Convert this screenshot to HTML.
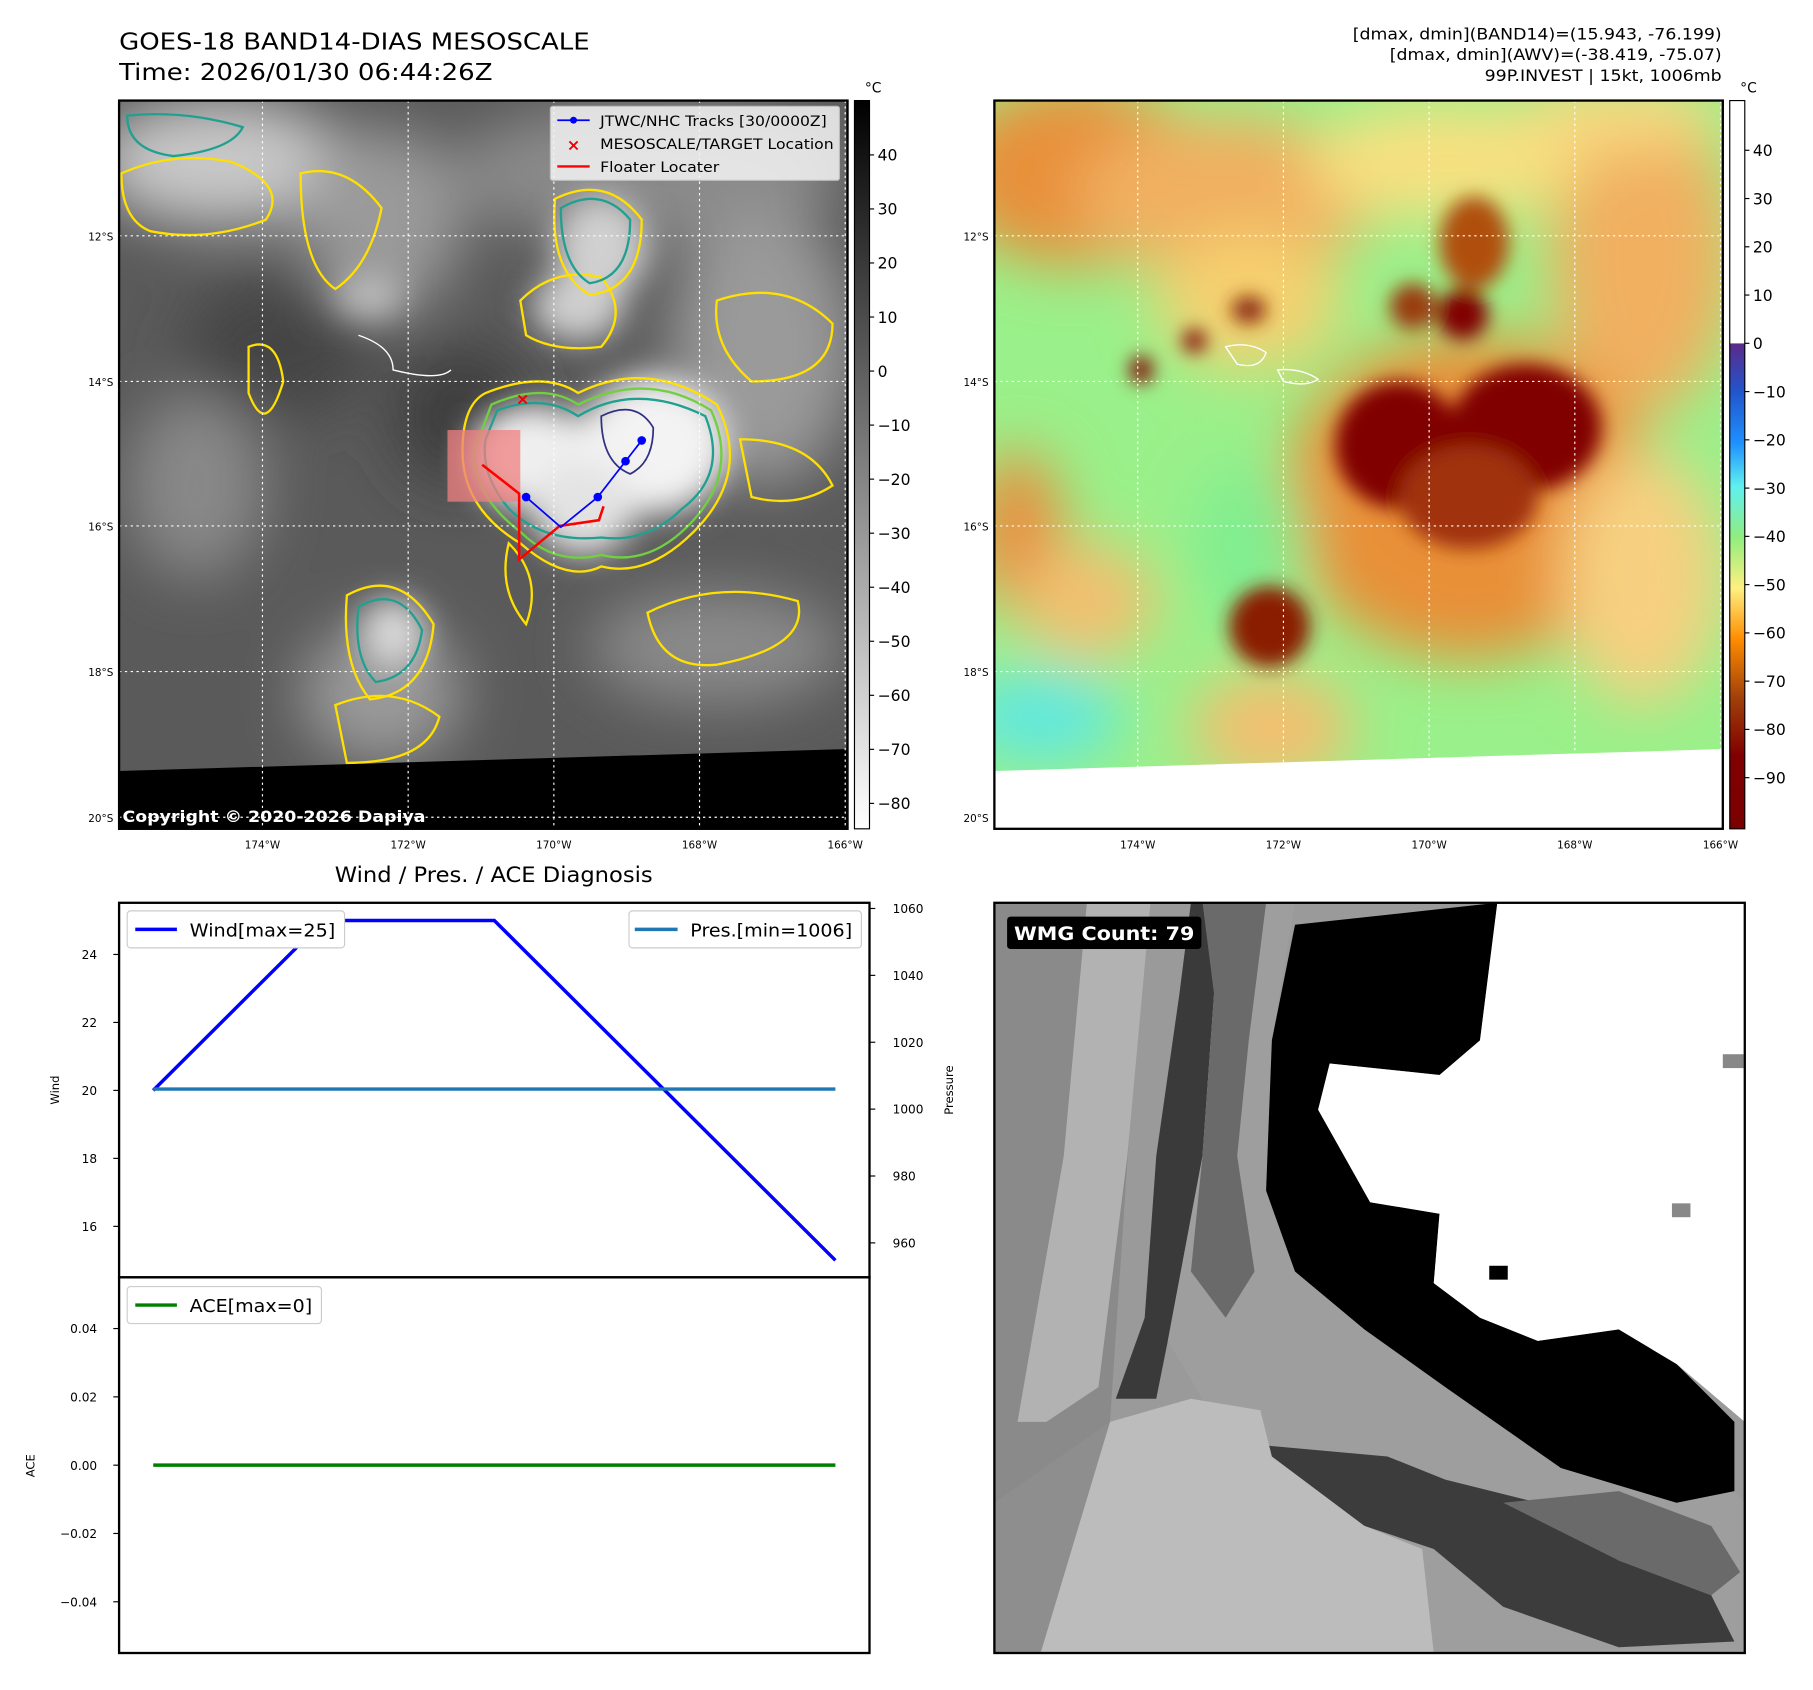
<!DOCTYPE html>
<html><head><meta charset="utf-8"><style>
html,body{margin:0;padding:0;background:#fff;}
svg{display:block;font-family:"DejaVu Sans","Liberation Sans",sans-serif;}
</style></head><body>
<svg id="fig" width="1813" height="1690" viewBox="0 0 1568 1462" preserveAspectRatio="none" xmlns="http://www.w3.org/2000/svg">
<defs>
<filter id="b8" x="-50%" y="-50%" width="200%" height="200%"><feGaussianBlur stdDeviation="8"/></filter>
<filter id="b14" x="-50%" y="-50%" width="200%" height="200%"><feGaussianBlur stdDeviation="14"/></filter>
<filter id="b25" x="-50%" y="-50%" width="200%" height="200%"><feGaussianBlur stdDeviation="25"/></filter>
<clipPath id="c1"><rect x="103" y="87" width="630" height="630"/></clipPath>
<clipPath id="c2"><rect x="860" y="87" width="630" height="630"/></clipPath>
<clipPath id="c4"><rect x="860" y="781" width="649" height="649"/></clipPath>
<linearGradient id="cb1" x1="0" y1="0" x2="0" y2="1"><stop offset="0" stop-color="#000"/><stop offset="1" stop-color="#fff"/></linearGradient>
<linearGradient id="cb2" x1="0" y1="0" x2="0" y2="1">
<stop offset="0" stop-color="#fff"/><stop offset="0.333" stop-color="#fff"/><stop offset="0.334" stop-color="#5a2a8a"/>
<stop offset="0.40" stop-color="#2255cc"/><stop offset="0.47" stop-color="#1e90ff"/><stop offset="0.53" stop-color="#60f0f0"/>
<stop offset="0.60" stop-color="#90ee80"/><stop offset="0.67" stop-color="#fff080"/><stop offset="0.74" stop-color="#ff8c00"/>
<stop offset="0.82" stop-color="#a0400a"/><stop offset="0.90" stop-color="#800000"/><stop offset="1" stop-color="#7a0000"/></linearGradient>
</defs>

<text x="103" y="43" font-size="20" textLength="407" lengthAdjust="spacingAndGlyphs">GOES-18 BAND14-DIAS MESOSCALE</text>
<text x="103" y="69" font-size="20" textLength="323" lengthAdjust="spacingAndGlyphs">Time: 2026/01/30 06:44:26Z</text>
<g font-size="14" text-anchor="end">
<text x="1489" y="34" textLength="319" lengthAdjust="spacingAndGlyphs">[dmax, dmin](BAND14)=(15.943, -76.199)</text>
<text x="1489" y="52" textLength="287" lengthAdjust="spacingAndGlyphs">[dmax, dmin](AWV)=(-38.419, -75.07)</text>
<text x="1489" y="70" textLength="205" lengthAdjust="spacingAndGlyphs">99P.INVEST | 15kt, 1006mb</text>
</g>

<g clip-path="url(#c1)">
<rect x="103" y="87" width="630" height="630" fill="#5a5a5a"/>
<g filter="url(#b25)">
<ellipse cx="190" cy="140" rx="110" ry="55" fill="#c8c8c8"/>
<ellipse cx="330" cy="190" rx="70" ry="80" fill="#9a9a9a"/>
<ellipse cx="560" cy="150" rx="170" ry="60" fill="#8a8a8a"/>
<ellipse cx="660" cy="300" rx="80" ry="120" fill="#9a9a9a"/>
<ellipse cx="170" cy="420" rx="60" ry="80" fill="#888"/>
<ellipse cx="400" cy="360" rx="60" ry="60" fill="#3e3e3e"/>
<ellipse cx="240" cy="300" rx="80" ry="60" fill="#444"/>
<ellipse cx="620" cy="560" rx="110" ry="50" fill="#8a8a8a"/>
<ellipse cx="330" cy="600" rx="70" ry="60" fill="#9a9a9a"/>
</g>
<g filter="url(#b14)">
<ellipse cx="520" cy="215" rx="40" ry="45" fill="#d0d0d0"/>
<ellipse cx="500" cy="265" rx="40" ry="30" fill="#cfcfcf"/>
<ellipse cx="460" cy="395" rx="55" ry="45" fill="#efefef"/>
<ellipse cx="565" cy="385" rx="65" ry="60" fill="#f3f3f3"/>
<ellipse cx="505" cy="440" rx="45" ry="40" fill="#e3e3e3"/>
<ellipse cx="340" cy="548" rx="28" ry="30" fill="#d8d8d8"/>
<ellipse cx="320" cy="255" rx="30" ry="20" fill="#bbb"/>
</g>
<g fill="none" stroke-width="2">
<path d="M420,340 Q470,320 500,340 Q560,310 620,350 Q650,410 600,460 Q560,500 520,490 Q490,505 450,470 Q400,440 400,390 Q400,350 420,340Z" stroke="#ffe000"/>
<path d="M425,350 Q470,330 500,350 Q560,320 615,355 Q640,410 595,455 Q560,490 520,480 Q480,490 450,460 Q410,430 410,390Z" stroke="#70d040"/>
<path d="M430,355 Q470,340 500,360 Q550,330 610,360 Q630,410 590,440 Q560,470 520,465 Q470,470 440,440 Q415,410 420,380Z" stroke="#20a090"/>
<path d="M520,360 Q550,345 565,370 Q565,400 545,410 Q520,400 520,360Z" stroke="#303080" stroke-width="1.5"/>
<path d="M450,260 Q480,230 520,240 Q545,270 520,300 Q480,305 455,290Z" stroke="#ffe000"/>
<path d="M485,180 Q520,160 545,190 Q545,240 510,245 Q485,230 485,180Z" stroke="#20a090"/>
<path d="M480,172 Q525,150 555,190 Q555,250 510,255 Q475,235 480,172Z" stroke="#ffe000"/>
<path d="M310,525 Q345,505 365,545 Q360,585 325,590 Q305,570 310,525Z" stroke="#20a090"/>
<path d="M300,515 Q345,490 375,540 Q370,600 320,605 Q295,575 300,515Z" stroke="#ffe000"/>
<path d="M105,150 Q150,130 200,140 Q250,160 230,190 Q180,210 130,200 Q105,190 105,150Z" stroke="#ffe000"/>
<path d="M110,100 Q160,95 210,110 Q200,130 150,135 Q110,130 110,100Z" stroke="#20a090"/>
<path d="M260,150 Q300,140 330,180 Q320,230 290,250 Q260,230 260,150Z" stroke="#ffe000"/>
<path d="M215,300 Q240,290 245,330 Q230,380 215,340Z" stroke="#ffe000"/>
<path d="M560,530 Q620,500 690,520 Q700,560 620,575 Q570,580 560,530Z" stroke="#ffe000"/>
<path d="M290,610 Q340,590 380,620 Q370,660 300,660Z" stroke="#ffe000"/>
<path d="M440,470 Q470,500 455,540 Q430,510 440,470Z" stroke="#ffe000"/>
<path d="M620,260 Q680,240 720,280 Q720,330 650,330 Q615,300 620,260Z" stroke="#ffe000"/>
<path d="M640,380 Q700,380 720,420 Q690,440 650,430Z" stroke="#ffe000"/>
<path d="M310,290 Q340,300 340,320 Q380,330 390,320" stroke="#fff" stroke-width="1.2"/>
</g>
<polygon points="103,667 733,648 733,717 103,717" fill="#000"/>
<rect x="387" y="372" width="63" height="62" fill="#f08080" opacity="0.75"/>
</g>
<g stroke="#fff" stroke-width="1" stroke-dasharray="2,3" fill="none">
<line x1="227" y1="87" x2="227" y2="717"/><line x1="353" y1="87" x2="353" y2="717"/><line x1="479" y1="87" x2="479" y2="717"/><line x1="605" y1="87" x2="605" y2="717"/><line x1="731" y1="87" x2="731" y2="717"/>
<line x1="103" y1="204" x2="733" y2="204"/><line x1="103" y1="330" x2="733" y2="330"/><line x1="103" y1="455" x2="733" y2="455"/><line x1="103" y1="581" x2="733" y2="581"/><line x1="103" y1="707" x2="733" y2="707"/>
</g>
<g fill="none" stroke="#f00" stroke-width="2.2">
<polyline points="417,402 449,427 449,484 484,455 518,450 522,438"/>
</g>
<g stroke="#00f" stroke-width="1.5" fill="#00f">
<polyline points="455,430 485,456 517,430 541,399 555,381" fill="none"/>
<circle cx="455" cy="430" r="3"/><circle cx="517" cy="430" r="3"/><circle cx="541" cy="399" r="3"/><circle cx="555" cy="381" r="3"/>
</g>
<text x="452" y="350" font-size="14" fill="#e00" font-weight="bold" text-anchor="middle">×</text>
<text x="106" y="711" font-size="14" font-weight="bold" fill="#fff" textLength="262" lengthAdjust="spacingAndGlyphs">Copyright © 2020-2026 Dapiya</text>
<g>
<rect x="476" y="92" width="250" height="64" fill="#f4f4f4" opacity="0.85" stroke="#ccc" rx="2"/>
<line x1="482" y1="104" x2="510" y2="104" stroke="#00f" stroke-width="1.5"/><circle cx="496" cy="104" r="3" fill="#00f"/>
<text x="519" y="109" font-size="12.5" textLength="196" lengthAdjust="spacingAndGlyphs">JTWC/NHC Tracks [30/0000Z]</text>
<text x="496" y="130" font-size="14" fill="#e00" font-weight="bold" text-anchor="middle">×</text>
<text x="519" y="129" font-size="12.5" textLength="202" lengthAdjust="spacingAndGlyphs">MESOSCALE/TARGET Location</text>
<line x1="482" y1="144" x2="510" y2="144" stroke="#f00" stroke-width="2"/>
<text x="519" y="149" font-size="12.5" textLength="103" lengthAdjust="spacingAndGlyphs">Floater Locater</text>
</g>
<rect x="103" y="87" width="630" height="630" fill="none" stroke="#000" stroke-width="2"/>

<g clip-path="url(#c2)">
<rect x="860" y="87" width="630" height="630" fill="#9af08a"/>
<g filter="url(#b25)">
<ellipse cx="930" cy="150" rx="110" ry="80" fill="#e8903a"/>
<ellipse cx="1060" cy="170" rx="130" ry="70" fill="#f0b060"/>
<ellipse cx="1420" cy="220" rx="80" ry="140" fill="#f0b060"/>
<ellipse cx="1250" cy="140" rx="120" ry="50" fill="#f8e080"/>
<ellipse cx="1080" cy="260" rx="80" ry="60" fill="#f5d070"/>
<ellipse cx="1400" cy="100" rx="90" ry="30" fill="#f8d880"/>
<ellipse cx="880" cy="460" rx="40" ry="70" fill="#e89040"/>
<ellipse cx="1270" cy="430" rx="160" ry="140" fill="#e89038"/>
<ellipse cx="1420" cy="500" rx="70" ry="110" fill="#f6d080"/>
<ellipse cx="940" cy="520" rx="60" ry="50" fill="#f2c070"/>
<ellipse cx="1100" cy="630" rx="70" ry="50" fill="#f2c070"/>
<ellipse cx="900" cy="620" rx="70" ry="40" fill="#60e8e0"/>
<ellipse cx="1080" cy="470" rx="50" ry="70" fill="#80ee90"/>
</g>
<g filter="url(#b8)">
<ellipse cx="1275" cy="210" rx="30" ry="40" fill="#b05010"/>
<ellipse cx="1210" cy="385" rx="55" ry="55" fill="#800000"/>
<ellipse cx="1320" cy="370" rx="65" ry="55" fill="#800000"/>
<ellipse cx="1270" cy="430" rx="60" ry="45" fill="#a03008"/>
<ellipse cx="1265" cy="272" rx="22" ry="22" fill="#800000"/>
<ellipse cx="1222" cy="265" rx="20" ry="20" fill="#9a3a10"/>
<ellipse cx="1098" cy="542" rx="35" ry="35" fill="#8a1a05"/>
<ellipse cx="1080" cy="268" rx="15" ry="12" fill="#8a2a08"/>
<ellipse cx="1033" cy="295" rx="10" ry="10" fill="#800000"/>
<ellipse cx="987" cy="320" rx="10" ry="12" fill="#800000"/>
</g>
<path d="M1060,300 Q1080,295 1095,305 Q1090,320 1070,315Z M1105,320 Q1125,318 1140,328 Q1130,335 1110,330Z" fill="none" stroke="#fff" stroke-width="1.2"/>
<polygon points="860,667 1490,648 1490,717 860,717" fill="#fff"/>
</g>
<g stroke="#fff" stroke-width="1" stroke-dasharray="2,3" fill="none">
<line x1="984" y1="87" x2="984" y2="717"/><line x1="1110" y1="87" x2="1110" y2="717"/><line x1="1236" y1="87" x2="1236" y2="717"/><line x1="1362" y1="87" x2="1362" y2="717"/><line x1="1488" y1="87" x2="1488" y2="717"/>
<line x1="860" y1="204" x2="1490" y2="204"/><line x1="860" y1="330" x2="1490" y2="330"/><line x1="860" y1="455" x2="1490" y2="455"/><line x1="860" y1="581" x2="1490" y2="581"/><line x1="860" y1="707" x2="1490" y2="707"/>
</g>
<rect x="860" y="87" width="630" height="630" fill="none" stroke="#000" stroke-width="2"/>

<g font-size="9">
<g text-anchor="end">
<text x="98" y="208">12°S</text><text x="98" y="334">14°S</text><text x="98" y="459">16°S</text><text x="98" y="585">18°S</text><text x="98" y="711">20°S</text>
<text x="855" y="208">12°S</text><text x="855" y="334">14°S</text><text x="855" y="459">16°S</text><text x="855" y="585">18°S</text><text x="855" y="711">20°S</text>
</g>
<g text-anchor="middle">
<text x="227" y="734">174°W</text><text x="353" y="734">172°W</text><text x="479" y="734">170°W</text><text x="605" y="734">168°W</text><text x="731" y="734">166°W</text>
<text x="984" y="734">174°W</text><text x="1110" y="734">172°W</text><text x="1236" y="734">170°W</text><text x="1362" y="734">168°W</text><text x="1488" y="734">166°W</text>
</g>
</g>

<g>
<rect x="739" y="87" width="13" height="630" fill="url(#cb1)" stroke="#000" stroke-width="1"/>
<text x="748" y="80" font-size="12">°C</text>
<g id="cb1ticks" font-size="13.5"></g>
</g>
<g>
<rect x="1496" y="87" width="13" height="630" fill="url(#cb2)" stroke="#000" stroke-width="1"/>
<text x="1505" y="80" font-size="12">°C</text>
<g id="cb2ticks" font-size="13.5"></g>
</g>

<text x="427" y="763" font-size="18.5" text-anchor="middle" textLength="275" lengthAdjust="spacingAndGlyphs">Wind / Pres. / ACE Diagnosis</text>
<g id="windPanel"></g>
<g id="acePanel"></g>

<g clip-path="url(#c4)">
<rect x="860" y="781" width="649" height="649" fill="#9a9a9a"/>
<polygon points="860,781 990,781 960,1230 900,1430 860,1430" fill="#8a8a8a"/>
<polygon points="940,781 995,781 975,1000 950,1200 905,1230 880,1230 920,1000" fill="#b2b2b2"/>
<polygon points="990,781 1030,781 1020,860 1000,1000 990,1140 965,1210 1000,1210 1010,1160 1040,1000 1050,860 1060,781" fill="#3a3a3a"/>
<polygon points="1060,781 1120,781 1100,900 1095,1030 1120,1100 1180,1150 1250,1200 1350,1270 1450,1300 1500,1290 1509,1300 1509,1430 1100,1430 1100,1300 1040,1210 1010,1160 1040,1000 1050,860" fill="#9e9e9e"/>
<polygon points="1040,781 1095,781 1080,900 1070,1000 1085,1100 1060,1140 1030,1100 1040,1000 1050,860" fill="#6a6a6a"/>
<polygon points="1120,800 1295,781 1280,900 1245,930 1150,920 1140,960 1185,1040 1245,1050 1240,1110 1280,1140 1330,1160 1400,1150 1450,1180 1500,1230 1500,1290 1450,1300 1350,1270 1250,1200 1180,1150 1120,1100 1095,1030 1100,900" fill="#000"/>
<polygon points="1295,781 1509,781 1509,1230 1450,1180 1400,1150 1330,1160 1280,1140 1240,1110 1245,1050 1185,1040 1140,960 1150,920 1245,930 1280,900" fill="#fff"/>
<polygon points="1090,1250 1200,1260 1250,1280 1330,1300 1400,1350 1480,1380 1500,1420 1400,1425 1300,1390 1240,1340 1180,1320 1120,1290" fill="#3c3c3c"/>
<polygon points="1300,1300 1400,1290 1480,1320 1505,1360 1480,1380 1400,1350" fill="#6a6a6a"/>
<polygon points="960,1230 1030,1210 1090,1220 1100,1260 1180,1320 1230,1340 1240,1430 880,1430 900,1330" fill="#bcbcbc"/>
<polygon points="860,1300 960,1230 900,1430 860,1430" fill="#8e8e8e"/>
<rect x="1490" y="912" width="18" height="12" fill="#888"/>
<rect x="1446" y="1041" width="16" height="12" fill="#888"/>
<rect x="1288" y="1095" width="16" height="12" fill="#000"/>
</g>
<rect x="860" y="781" width="649" height="649" fill="none" stroke="#000" stroke-width="2"/>
<g>
<rect x="871" y="793" width="168" height="28" rx="3" fill="#000"/>
<text x="877" y="813" font-size="16" font-weight="bold" fill="#fff" textLength="156" lengthAdjust="spacingAndGlyphs">WMG Count: 79</text>
</g>
</svg>

<script>
const timeIdx = [0, 1, 2, 3, 4];
const windVals = [20, 25, 25, 20, 15];
const presVals = [1006, 1006, 1006, 1006, 1006];
const aceVals = [0, 0, 0, 0, 0];
const windTicks = [16, 18, 20, 22, 24];
const presTicks = [960, 980, 1000, 1020, 1040, 1060];
const aceTicks = [-0.04, -0.02, 0.00, 0.02, 0.04];
const cb1Ticks = [40, 30, 20, 10, 0, -10, -20, -30, -40, -50, -60, -70, -80];
const cb2Ticks = [40, 30, 20, 10, 0, -10, -20, -30, -40, -50, -60, -70, -80, -90];

const NS = 'http://www.w3.org/2000/svg';
function mk(tag, attrs, parent) {
  const e = document.createElementNS(NS, tag);
  for (const k in attrs) e.setAttribute(k, attrs[k]);
  parent.appendChild(e);
  return e;
}
const X0 = 103, X1 = 752;
const xMin = -0.2, xMax = 4.2;
const xS = v => X0 + (v - xMin) / (xMax - xMin) * (X1 - X0);
const W0 = 781, W1 = 1105;
const wMin = 14.5, wMax = 25.52;
const wS = v => W1 - (v - wMin) / (wMax - wMin) * (W1 - W0);
const pMin = 949.7, pMax = 1061.7;
const pS = v => W1 - (v - pMin) / (pMax - pMin) * (W1 - W0);
const A0 = 1105, A1 = 1430;
const aMin = -0.055, aMax = 0.055;
const aS = v => A1 - (v - aMin) / (aMax - aMin) * (A1 - A0);
const cb1S = v => 134 + (40 - v) * 4.675;
const cb2S = v => 297 - v * 4.175;

const g1 = document.getElementById('cb1ticks');
cb1Ticks.forEach(t => {
  const l = mk('line', {x1: 752, x2: 756, y1: cb1S(t), y2: cb1S(t), stroke: '#000'}, g1);
  
  
  const tx = mk('text', {x: 759, y: cb1S(t) + 5}, g1);
  
  
  tx.textContent = t < 0 ? '\u2212' + Math.abs(t) : String(t);
});
const g2 = document.getElementById('cb2ticks');
cb2Ticks.forEach(t => {
  const l = mk('line', {x1: 1509, x2: 1513, y1: cb2S(t), y2: cb2S(t), stroke: '#000'}, g2);
  
  
  const tx = mk('text', {x: 1516, y: cb2S(t) + 5}, g2);
  
  
  tx.textContent = t < 0 ? '\u2212' + Math.abs(t) : String(t);
});

const wp = document.getElementById('windPanel');
const wl = mk('polyline', {points: timeIdx.map((t, i) => xS(t) + ',' + wS(windVals[i])).join(' '), fill: 'none', stroke: '#0000ff', 'stroke-width': 3}, wp);


const pl = mk('polyline', {points: timeIdx.map((t, i) => xS(t) + ',' + pS(presVals[i])).join(' '), fill: 'none', stroke: '#1f77b4', 'stroke-width': 3}, wp);


windTicks.forEach(t => {
  const l = mk('line', {x1: 98, x2: 103, y1: wS(t), y2: wS(t), stroke: '#000'}, wp);
  
  
  const tx = mk('text', {x: 84, y: wS(t) + 4, 'font-size': 10.5, 'text-anchor': 'end'}, wp);
  
  
  tx.textContent = t;
});
presTicks.forEach(t => {
  const l = mk('line', {x1: 752, x2: 757, y1: pS(t), y2: pS(t), stroke: '#000'}, wp);
  
  
  const tx = mk('text', {x: 772, y: pS(t) + 4, 'font-size': 10.5}, wp);
  
  
  tx.textContent = t;
});
const wyt = mk('text', {x: 0, y: 0, 'font-size': 10, 'text-anchor': 'middle', transform: 'translate(51,943) rotate(-90)'}, wp);


wyt.textContent = 'Wind';
const pyt = mk('text', {x: 0, y: 0, 'font-size': 10, 'text-anchor': 'middle', transform: 'translate(824,943) rotate(-90)'}, wp);


pyt.textContent = 'Pressure';
const wf = mk('rect', {x: 103, y: 781, width: 649, height: 324, fill: 'none', stroke: '#000', 'stroke-width': 2}, wp);


const lw = mk('g', {}, wp);


mk('rect', {x: 110, y: 788, width: 188, height: 32, fill: '#fff', stroke: '#ccc', rx: 3}, lw);
mk('line', {x1: 117, x2: 153, y1: 804, y2: 804, stroke: '#0000ff', 'stroke-width': 3}, lw);
mk('text', {x: 164, y: 810, 'font-size': 15.5, textLength: 126, lengthAdjust: 'spacingAndGlyphs'}, lw).textContent = 'Wind[max=25]';
const lp = mk('g', {}, wp);


mk('rect', {x: 544, y: 788, width: 201, height: 32, fill: '#fff', stroke: '#ccc', rx: 3}, lp);
mk('line', {x1: 549, x2: 586, y1: 804, y2: 804, stroke: '#1f77b4', 'stroke-width': 3}, lp);
mk('text', {x: 597, y: 810, 'font-size': 15.5, textLength: 140, lengthAdjust: 'spacingAndGlyphs'}, lp).textContent = 'Pres.[min=1006]';

const ap = document.getElementById('acePanel');
const al = mk('polyline', {points: timeIdx.map((t, i) => xS(t) + ',' + aS(aceVals[i])).join(' '), fill: 'none', stroke: '#008000', 'stroke-width': 3}, ap);


aceTicks.forEach(t => {
  const l = mk('line', {x1: 98, x2: 103, y1: aS(t), y2: aS(t), stroke: '#000'}, ap);
  
  
  const tx = mk('text', {x: 84, y: aS(t) + 4, 'font-size': 10.5, 'text-anchor': 'end'}, ap);
  
  
  tx.textContent = (t < 0 ? '\u2212' : '') + Math.abs(t).toFixed(2);
});
const ayt = mk('text', {x: 0, y: 0, 'font-size': 10, 'text-anchor': 'middle', transform: 'translate(30,1268) rotate(-90)'}, ap);


ayt.textContent = 'ACE';
const af = mk('rect', {x: 103, y: 1105, width: 649, height: 325, fill: 'none', stroke: '#000', 'stroke-width': 2}, ap);


const la = mk('g', {}, ap);


mk('rect', {x: 110, y: 1113, width: 168, height: 32, fill: '#fff', stroke: '#ccc', rx: 3}, la);
mk('line', {x1: 117, x2: 153, y1: 1129, y2: 1129, stroke: '#008000', 'stroke-width': 3}, la);
mk('text', {x: 164, y: 1135, 'font-size': 15.5, textLength: 106, lengthAdjust: 'spacingAndGlyphs'}, la).textContent = 'ACE[max=0]';
</script>
</body></html>
